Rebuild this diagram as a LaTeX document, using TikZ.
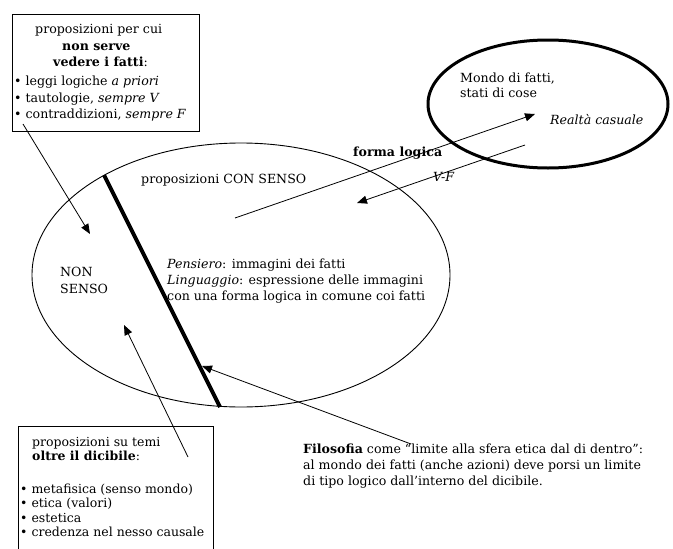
\documentclass[tikz,border=0pt]{standalone}
\usepackage{fontspec}
\setmainfont[Ligatures=TeX]{DejaVu Serif}
\usetikzlibrary{arrows.meta,shapes.geometric}
\begin{document}
\begin{tikzpicture}[x=1pt,y=-1pt,
  txt/.style={anchor=base west, inner sep=0pt, font=\fontsize{12.6}{14}\selectfont},
  stxt/.style={anchor=base west, inner sep=0pt, font=\fontsize{12.5}{14}\selectfont},
  thin/.style={line width=0.8pt},
  arr/.style={thin, -{Triangle[length=10pt,width=8pt]}},
  frame/.style={draw, thin, anchor=north west, inner sep=0pt}]
\clip (0,0) rectangle (673,549);
\fill[white] (0,0) rectangle (673,549);

% boxes and ellipses
\node[frame, minimum width=187pt, minimum height=117pt] (boxA) at (12,14) {};
\node[frame, minimum width=195pt, minimum height=140pt] (boxB) at (18,426) {};
\node[draw, line width=0.9pt, ellipse, minimum width=418pt, minimum height=264pt, inner sep=0pt] (senso) at (241,275) {};
\node[draw, line width=3pt, ellipse, minimum width=240pt, minimum height=128pt, inner sep=0pt] (mondo) at (548,104) {};

% limit line
\coordinate (lim1) at (104,175);
\coordinate (lim2) at (220,407);
\draw[line width=4pt] (lim1) -- (lim2);

% arrows
\coordinate (fl0) at (235,218); \coordinate (fl1) at (535,114);
\draw[arr] (fl0) -- (fl1);
\coordinate (vf0) at (525,145); \coordinate (vf1) at (357,203);
\draw[arr] (vf0) -- (vf1);
\coordinate (a0) at (23,124); \coordinate (a1) at (90,234);
\draw[arr] (a0) -- (a1);
\coordinate (b0) at (188,457); \coordinate (b1) at (124,325);
\draw[arr] (b0) -- (b1);
\coordinate (c0) at (411,444); \coordinate (c1) at (202,366);
\draw[arr] (c0) -- (c1);

% top-left box text
\node[txt] (ta1) at (35,33) {proposizioni per cui};
\node[txt] (ta2) at (62,50) {\textbf{non serve}};
\node[txt] (ta3) at (53,66) {\textbf{vedere i fatti}:};
\node[txt] (ta4) at (14,85) {• leggi logiche \textit{a priori}};
\node[txt] (ta5) at (14,102) {• tautologie, \textit{sempre V}};
\node[txt] (ta6) at (14,118) {• contraddizioni, \textit{sempre F}};

% big ellipse text
\node[txt] (cs) at (141,183) {proposizioni CON SENSO};
\node[txt] (ns1) at (60,276) {NON};
\node[txt] (ns2) at (60,293) {SENSO};
\node[txt] (p1) at (167,268) {\textit{Pensiero}: immagini dei fatti};
\node[txt] (p2) at (167,284) {\textit{Linguaggio}: espressione delle immagini};
\node[txt] (p3) at (167,300) {con una forma logica in comune coi fatti};

% arrow labels
\node[txt] (flab) at (353,156) {\textbf{forma logica}};
\node[txt] (vlab) at (433,181) {\textit{V-F}};

% world ellipse text
\node[txt] (m1) at (460,82) {Mondo di fatti,};
\node[txt] (m2) at (460,97) {stati di cose};
\node[txt] (m3) at (550,124) {\textit{Realtà casuale}};

% bottom-left box text
\node[stxt] (tb1) at (32,446) {proposizioni su temi};
\node[stxt] (tb2) at (32,460) {\textbf{oltre il dicibile}:};
\node[stxt] (tb3) at (20,493) {• metafisica (senso mondo)};
\node[stxt] (tb4) at (20,507) {• etica (valori)};
\node[stxt] (tb5) at (20,522) {• estetica};
\node[stxt] (tb6) at (20,536) {• credenza nel nesso causale};

% philosophy text
\node[txt] (f1) at (303,453) {\textbf{Filosofia} come ``limite alla sfera etica dal di dentro'':};
\node[txt] (f2) at (303,469) {al mondo dei fatti (anche azioni) deve porsi un limite};
\node[txt] (f3) at (303,485) {di tipo logico dall’interno del dicibile.};
\end{tikzpicture}
\end{document}
